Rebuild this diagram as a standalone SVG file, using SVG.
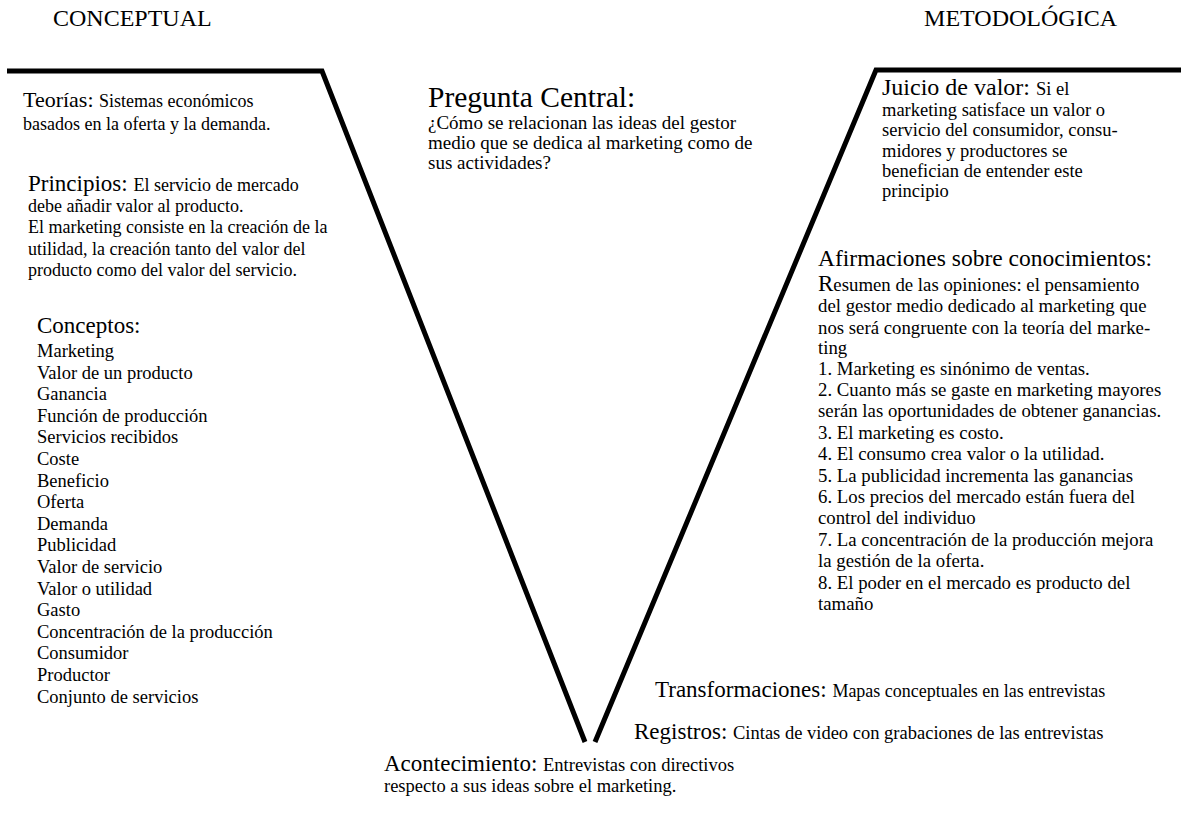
<svg xmlns="http://www.w3.org/2000/svg" width="1181" height="822" viewBox="0 0 1181 822" font-family="'Liberation Serif', 'Times New Roman', serif">
  <style>
    text, tspan { font-family: "Liberation Serif", "Times New Roman", serif; fill: #000; }
    .cap { font-size: 24px; }
    .h { font-size: 23px; }
    .b { font-size: 18px; }
    .v { fill: none; stroke: #000; stroke-width: 5; stroke-linejoin: miter; }
  </style>
  <rect width="1181" height="822" fill="#fff"/>

  <!-- the V outline -->
  <g id="connectors">
    <path class="v" d="M7,71 H322 L585,742"/>
    <path class="v" d="M595,742 L876,70 H1181"/>
  </g>

  <g id="side-labels">
    <text class="cap" x="53" y="26">CONCEPTUAL</text>
    <text class="cap" x="1117" y="26" text-anchor="end">METODOLÓGICA</text>
  </g>

  <g id="teorias">
    <text x="23" y="107"><tspan font-size="22">Teorías: </tspan><tspan class="b">Sistemas económicos</tspan></text>
    <text class="b" x="23" y="130">basados en la oferta y la demanda.</text>
  </g>

  <g id="principios">
    <text x="28" y="191"><tspan class="h">Principios: </tspan><tspan class="b">El servicio de mercado</tspan></text>
    <text class="b" x="28" y="212">debe añadir valor al producto.</text>
    <text class="b" x="28" y="233">El marketing consiste en la creación de la</text>
    <text class="b" x="28" y="255">utilidad, la creación tanto del valor del</text>
    <text class="b" x="28" y="276">producto como del valor del servicio.</text>
  </g>

  <g id="conceptos" font-size="18.5">
    <text class="h" x="37" y="333">Conceptos:</text>
    <text x="37" y="357">Marketing</text>
    <text x="37" y="378.6">Valor de un producto</text>
    <text x="37" y="400.2">Ganancia</text>
    <text x="37" y="421.8">Función de producción</text>
    <text x="37" y="443.4">Servicios recibidos</text>
    <text x="37" y="465">Coste</text>
    <text x="37" y="486.6">Beneficio</text>
    <text x="37" y="508.2">Oferta</text>
    <text x="37" y="529.8">Demanda</text>
    <text x="37" y="551.4">Publicidad</text>
    <text x="37" y="573">Valor de servicio</text>
    <text x="37" y="594.6">Valor o utilidad</text>
    <text x="37" y="616.2">Gasto</text>
    <text x="37" y="637.8">Concentración de la producción</text>
    <text x="37" y="659.4">Consumidor</text>
    <text x="37" y="681">Productor</text>
    <text x="37" y="702.6">Conjunto de servicios</text>
  </g>

  <g id="pregunta-central" font-size="19">
    <text x="428" y="107" font-size="29.5">Pregunta Central:</text>
    <text x="428" y="129">¿Cómo se relacionan las ideas del gestor</text>
    <text x="428" y="149">medio que se dedica al marketing como de</text>
    <text x="428" y="169">sus actividades?</text>
  </g>

  <g id="juicio-de-valor" font-size="18.5">
    <text x="882" y="95"><tspan font-size="24">Juicio de valor: </tspan>Si el</text>
    <text x="882" y="116">marketing satisface un valor o</text>
    <text x="882" y="136">servicio del consumidor, consu-</text>
    <text x="882" y="157">midores y productores se</text>
    <text x="882" y="177">benefician de entender este</text>
    <text x="882" y="197">principio</text>
  </g>

  <g id="afirmaciones" font-size="18.8">
    <text x="818" y="266" font-size="23.5">Afirmaciones sobre conocimientos:</text>
    <text x="818" y="291"><tspan font-size="23">R</tspan>esumen de las opiniones: el pensamiento</text>
    <text x="818" y="312">del gestor medio dedicado al marketing que</text>
    <text x="818" y="333.5">nos será congruente con la teoría del marke-</text>
    <text x="818" y="354">ting</text>
    <text x="818" y="374.6">1. Marketing es sinónimo de ventas.</text>
    <text x="818" y="396">2. Cuanto más se gaste en marketing mayores</text>
    <text x="818" y="417.4">serán las oportunidades de obtener ganancias.</text>
    <text x="818" y="438.8">3. El marketing es costo.</text>
    <text x="818" y="460.2">4. El consumo crea valor o la utilidad.</text>
    <text x="818" y="481.6">5. La publicidad incrementa las ganancias</text>
    <text x="818" y="503">6. Los precios del mercado están fuera del</text>
    <text x="818" y="524.4">control del individuo</text>
    <text x="818" y="545.8">7. La concentración de la producción mejora</text>
    <text x="818" y="567.2">la gestión de la oferta.</text>
    <text x="818" y="588.6">8. El poder en el mercado es producto del</text>
    <text x="818" y="610">tamaño</text>
  </g>

  <g id="transformaciones">
    <text x="655" y="697"><tspan font-size="23">Transformaciones: </tspan><tspan font-size="18">Mapas conceptuales en las entrevistas</tspan></text>
  </g>

  <g id="registros">
    <text x="634" y="739"><tspan font-size="23">Registros: </tspan><tspan font-size="18.5">Cintas de video con grabaciones de las entrevistas</tspan></text>
  </g>

  <g id="acontecimiento">
    <text x="384" y="771"><tspan font-size="23">Acontecimiento: </tspan><tspan font-size="18.5">Entrevistas con directivos</tspan></text>
    <text x="384" y="792" font-size="18.5">respecto a sus ideas sobre el marketing.</text>
  </g>
</svg>
